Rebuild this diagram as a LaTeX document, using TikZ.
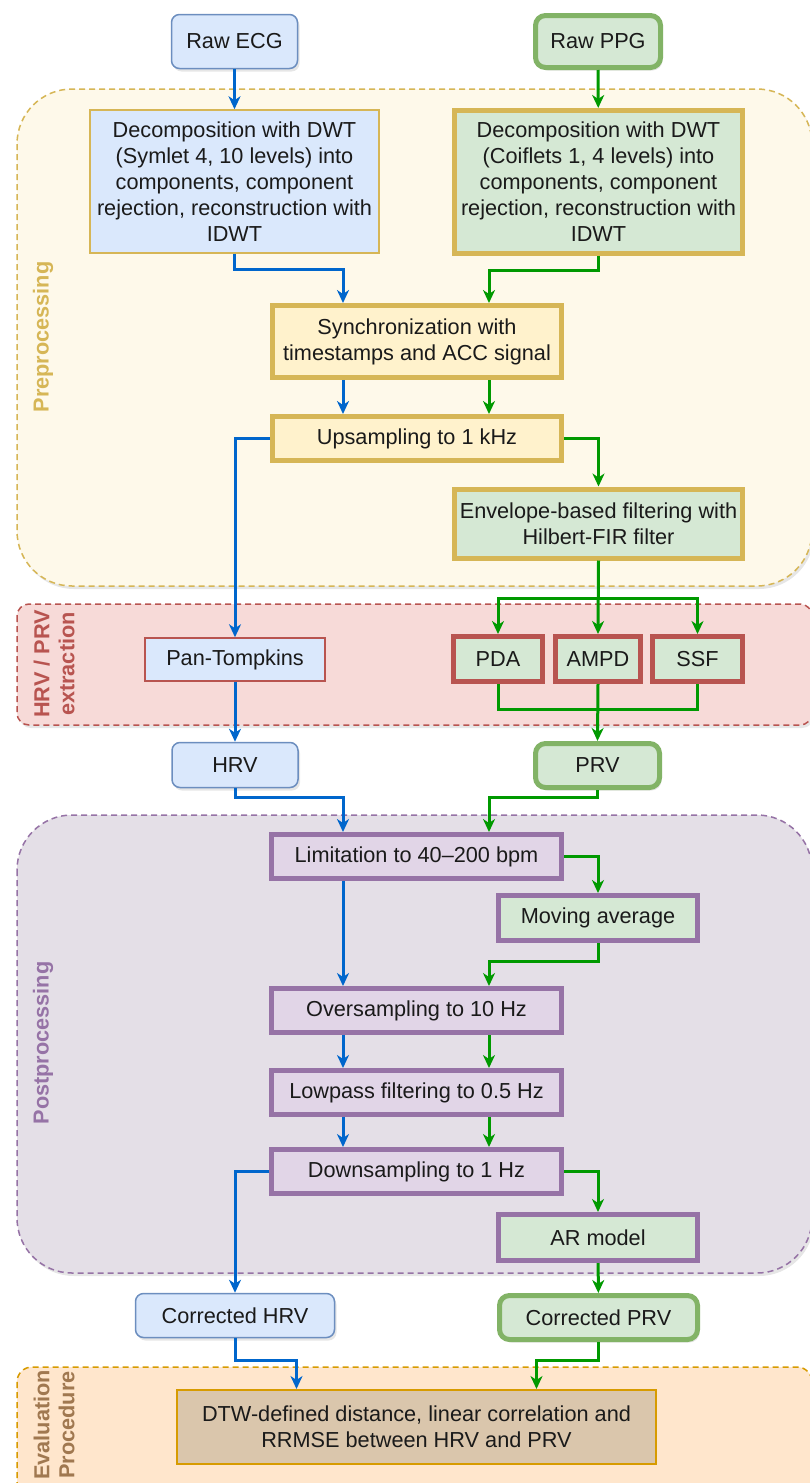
\documentclass[tikz,border=0pt]{standalone}
\usepackage{fontspec}
\setmainfont{Liberation Sans}
\usetikzlibrary{arrows.meta,shadows}

\definecolor{ecgfill}{HTML}{DAE8FC}
\definecolor{ecgline}{HTML}{6C8EBF}
\definecolor{ppgfill}{HTML}{D5E8D4}
\definecolor{ppgline}{HTML}{82B366}
\definecolor{prefill}{HTML}{FFF2CC}
\definecolor{preline}{HTML}{D6B656}
\definecolor{prebg}{HTML}{FEF9EA}
\definecolor{extline}{HTML}{B85450}
\definecolor{extbg}{HTML}{F7DAD8}
\definecolor{postfill}{HTML}{E1D5E7}
\definecolor{postline}{HTML}{9673A6}
\definecolor{postbg}{HTML}{E4DFE7}
\definecolor{evalline}{HTML}{D79B00}
\definecolor{evalbg}{HTML}{FFE6CC}
\definecolor{evaltext}{HTML}{A07850}
\definecolor{dtwfill}{HTML}{DAC6AC}
\definecolor{bflowc}{HTML}{0066CC}
\definecolor{gflowc}{HTML}{009900}
\definecolor{txt}{HTML}{1A1A1A}

\tikzset{
  softshadow/.style={drop shadow={opacity=0.2,shadow xshift=2pt,shadow yshift=-3pt}},
  box/.style={draw,inner sep=0pt,align=center,text=txt,font=\fontsize{21.7}{26}\selectfont},
  ecgterm/.style={box,fill=ecgfill,draw=ecgline,line width=1.5pt,rounded corners=8pt,softshadow},
  ppgterm/.style={box,fill=ppgfill,draw=ppgline,line width=5pt,rounded corners=10pt,softshadow},
  ecgstep/.style={box,fill=ecgfill,line width=1.5pt},
  ppgstep/.style={box,fill=ppgfill,line width=5pt},
  prestep/.style={box,fill=prefill,draw=preline,line width=5pt},
  poststep/.style={box,fill=postfill,draw=postline,line width=5pt},
  region/.style={line width=1.5pt,dash pattern=on 6pt off 4pt,softshadow},
  regionlabel/.style={rotate=90,align=center,font=\fontsize{21.7}{25}\selectfont\bfseries},
  bflow/.style={draw=bflowc,line width=3pt,-{Stealth[length=13pt,width=12pt,inset=4pt]}},
  gflow/.style={draw=gflowc,line width=3pt,-{Stealth[length=13pt,width=12pt,inset=4pt]}},
}

\begin{document}
\begin{tikzpicture}[x=1pt,y=-1pt]
    \useasboundingbox (0,0) rectangle (810,1483);

    %regions
    \draw[region,fill=prebg,draw=preline,rounded corners=55pt] (17,89) rectangle (812,586);
    \draw[region,fill=extbg,draw=extline,rounded corners=12pt] (17,604) rectangle (812,725);
    \draw[region,fill=postbg,draw=postline,rounded corners=55pt] (17,815) rectangle (812,1273);
    \draw[region,fill=evalbg,draw=evalline,rounded corners=15pt] (17,1367) rectangle (812,1520);
    \node[regionlabel,text=preline] (prelabel) at (43,337) {Preprocessing};
    \node[regionlabel,text=extline] (extlabel) at (54,664) {HRV / PRV\\extraction};
    \node[regionlabel,text=postline] (postlabel) at (43,1043) {Postprocessing};
    \node[regionlabel,text=evaltext] (evallabel) at (54,1425) {Evaluation\\Procedure};

    %columns
    \coordinate (bcol) at (343,0);
    \coordinate (gcol) at (489,0);

    %preprocessing
    \node[ecgterm,minimum width=126pt,minimum height=54pt] (rawecg) at (234.5,41.5) {Raw ECG};
    \node[ppgterm,minimum width=125pt,minimum height=52pt] (rawppg) at (598,41.5) {Raw PPG};
    \node[ecgstep,draw=preline,minimum width=289pt,minimum height=143pt] (dececg) at (234.5,181.5)
        {Decomposition with DWT\\(Symlet 4, 10 levels) into\\components, component\\rejection, reconstruction with\\IDWT};
    \node[ppgstep,draw=preline,minimum width=288pt,minimum height=143pt] (decppg) at (598.5,182)
        {Decomposition with DWT\\(Coiflets 1, 4 levels) into\\components, component\\rejection, reconstruction with\\IDWT};
    \node[prestep,minimum width=289pt,minimum height=72pt] (sync) at (417,341.5)
        {Synchronization with\\timestamps and ACC signal};
    \node[prestep,minimum width=289pt,minimum height=44pt] (ups) at (417,438.5) {Upsampling to 1 kHz};
    \node[ppgstep,draw=preline,minimum width=288pt,minimum height=69pt] (env) at (598.5,523.5)
        {Envelope-based filtering with\\Hilbert-FIR filter};

    %extraction
    \node[ecgstep,draw=extline,minimum width=180pt,minimum height=43pt] (pant) at (235,659.5) {Pan-Tompkins};
    \node[ppgstep,draw=extline,minimum width=89pt,minimum height=45pt] (pda) at (498,659) {PDA};
    \node[ppgstep,draw=extline,minimum width=85pt,minimum height=45pt] (ampd) at (598,659) {AMPD};
    \node[ppgstep,draw=extline,minimum width=90pt,minimum height=45pt] (ssf) at (697.5,659) {SSF};
    \node[ecgterm,minimum width=126pt,minimum height=45pt] (hrv) at (235,765) {HRV};
    \node[ppgterm,minimum width=124pt,minimum height=44pt] (prv) at (597.5,765.5) {PRV};

    %postprocessing
    \node[poststep,minimum width=290pt,minimum height=44pt] (limit) at (416.5,856.5) {Limitation to 40--200 bpm};
    \node[ppgstep,draw=postline,minimum width=199pt,minimum height=45pt] (movavg) at (598,918) {Moving average};
    \node[poststep,minimum width=290pt,minimum height=44pt] (over) at (416.5,1010.5) {Oversampling to 10 Hz};
    \node[poststep,minimum width=290pt,minimum height=44pt] (low) at (416.5,1092.5) {Lowpass filtering to 0.5 Hz};
    \node[poststep,minimum width=290pt,minimum height=44pt] (down) at (416.5,1171.5) {Downsampling to 1 Hz};
    \node[ppgstep,draw=postline,minimum width=199pt,minimum height=46pt] (ar) at (598,1237.5) {AR model};
    \node[ecgterm,minimum width=199pt,minimum height=44pt] (corrhrv) at (235,1315.5) {Corrected HRV};
    \node[ppgterm,minimum width=198pt,minimum height=44pt] (corrprv) at (598.5,1317.5) {Corrected PRV};

    %evaluation
    \node[box,fill=dtwfill,draw=evalline,line width=2pt,minimum width=479pt,minimum height=74pt] (dtw) at (416.5,1427)
        {DTW-defined distance, linear correlation and\\RRMSE between HRV and PRV};

    %arrows
    \draw[bflow] (rawecg) -- (dececg);
    \draw[gflow] (rawppg) -- (decppg);
    \draw[bflow] (dececg.south) -- ++(0,16) -| (bcol |- sync.north);
    \draw[gflow] (decppg.south) -- ++(0,14) -| (gcol |- sync.north);
    \draw[bflow] (bcol |- sync.south) -- (bcol |- ups.north);
    \draw[gflow] (gcol |- sync.south) -- (gcol |- ups.north);
    \draw[bflow] (ups.west) -| (pant.north);
    \draw[gflow] (ups.east) -| (env.north);
    \draw[gflow] (env.south) -- (ampd.north);
    \draw[gflow] (env.south) -- ++(0,38) -| (pda.north);
    \draw[gflow] (env.south) -- ++(0,38) -| (ssf.north);
    \draw[gflow,-] (pda.south) -- ++(0,25) -| (ssf.south);
    \draw[gflow] (ampd.south) -- (prv.north);
    \draw[bflow] (pant) -- (hrv);
    \draw[bflow] (hrv.south) -- ++(0,9) -| (bcol |- limit.north);
    \draw[gflow] (prv.south) -- ++(0,7) -| (gcol |- limit.north);
    \draw[gflow] (limit.east) -| (movavg.north);
    \draw[bflow] (bcol |- limit.south) -- (bcol |- over.north);
    \draw[gflow] (movavg.south) -- ++(0,18) -| (gcol |- over.north);
    \draw[bflow] (bcol |- over.south) -- (bcol |- low.north);
    \draw[gflow] (gcol |- over.south) -- (gcol |- low.north);
    \draw[bflow] (bcol |- low.south) -- (bcol |- down.north);
    \draw[gflow] (gcol |- low.south) -- (gcol |- down.north);
    \draw[bflow] (down.west) -| (corrhrv.north);
    \draw[gflow] (down.east) -| (ar.north);
    \draw[gflow] (ar) -- (corrprv);
    \draw[bflow] (corrhrv.south) -- ++(0,22) -| ([xshift=-120pt]dtw.north);
    \draw[gflow] (corrprv.south) -- ++(0,18) -| ([xshift=120pt]dtw.north);

\end{tikzpicture}
\end{document}
